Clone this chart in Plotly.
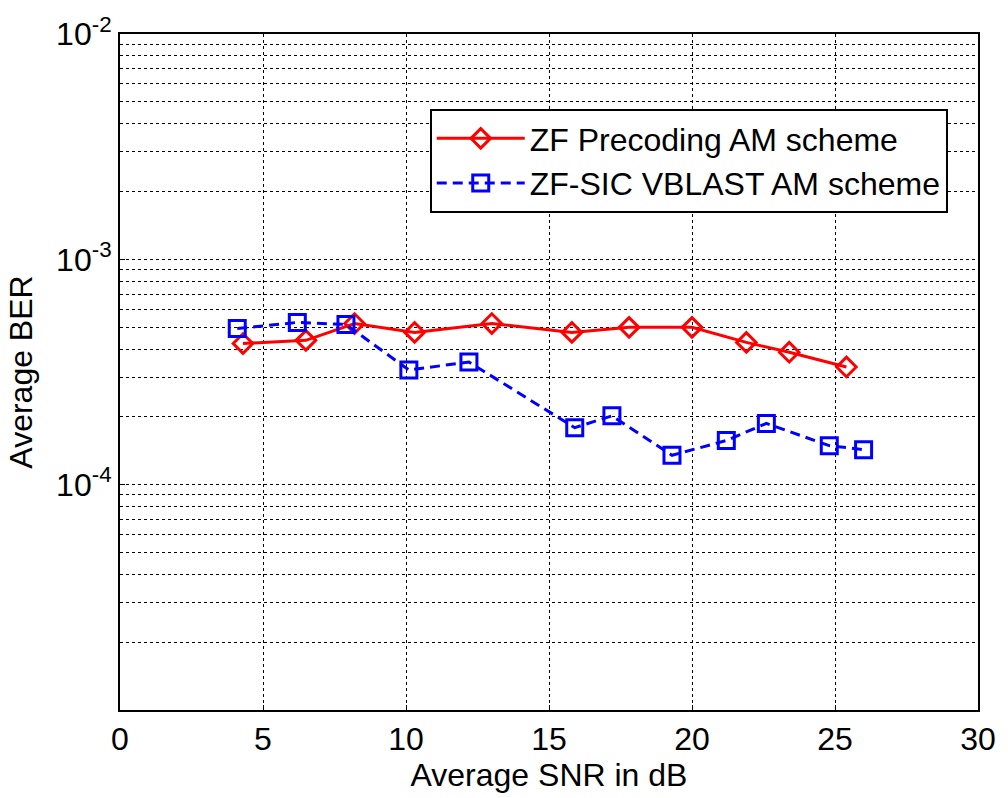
import plotly.graph_objects as go

# SNR (dB) and BER values for the two schemes
snr_zf = [4.3, 6.5, 8.2, 10.3, 13.0, 15.8, 17.8, 20.0, 21.9, 23.4, 25.4]
ber_zf = [4.23e-4, 4.37e-4, 5.19e-4, 4.74e-4, 5.19e-4, 4.74e-4, 4.99e-4, 4.99e-4, 4.28e-4, 3.87e-4, 3.33e-4]

snr_sic = [4.1, 6.2, 7.9, 10.1, 12.2, 15.9, 17.2, 19.3, 21.2, 22.6, 24.8, 26.0]
ber_sic = [4.93e-4, 5.25e-4, 5.14e-4, 3.23e-4, 3.50e-4, 1.79e-4, 2.02e-4, 1.35e-4, 1.57e-4, 1.87e-4, 1.49e-4, 1.43e-4]

x_ticks = [0, 5, 10, 15, 20, 25, 30]
y_ticks = [1e-4, 1e-3, 1e-2]
y_tick_text = ["10<sup>-4</sup>", "10<sup>-3</sup>", "10<sup>-2</sup>"]

# minor grid lines at 2..9 within each decade
y_minor = [m * 10.0 ** e for e in (-5, -4, -3) for m in range(2, 10)]

FONT = "Liberation Sans"
FS = 32

fig = go.Figure()
fig.add_trace(go.Scatter(
    x=snr_zf, y=ber_zf, name="ZF Precoding AM scheme",
    mode="lines+markers",
    line=dict(color="#ff0000", width=3),
    marker=dict(symbol="diamond-open", size=15, color="#ff0000", line=dict(width=3)),
))
fig.add_trace(go.Scatter(
    x=snr_sic, y=ber_sic, name="ZF-SIC VBLAST AM scheme",
    mode="lines+markers",
    line=dict(color="#0000ff", width=3, dash="10px,6px"),
    marker=dict(symbol="square-open", size=16, color="#0000ff", line=dict(width=3)),
))

fig.update_layout(
    width=1008, height=798,
    margin=dict(l=120, r=21, t=31, b=85),
    paper_bgcolor="white", plot_bgcolor="white",
    font=dict(family=FONT, size=FS, color="black"),
    legend=dict(
        x=0.361, y=0.889, xanchor="left", yanchor="top",
        bgcolor="white", bordercolor="black", borderwidth=2,
        font=dict(family=FONT, size=FS), itemwidth=88, tracegroupgap=2,
    ),
)

fig.update_xaxes(
    range=[0, 30], tickvals=x_ticks,
    showgrid=True, gridcolor="black", griddash="dot", gridwidth=1,
    showline=True, linecolor="black", linewidth=2, mirror=True,
    ticks="inside", ticklen=5, tickcolor="black",
    zeroline=False,
    title=dict(text="Average SNR in dB", font=dict(family=FONT, size=FS), standoff=6),
    tickfont=dict(family=FONT, size=FS),
)
fig.update_yaxes(
    type="log", range=[-5, -2],
    tickvals=y_ticks, ticktext=y_tick_text,
    showgrid=True, gridcolor="black", griddash="dot", gridwidth=1,
    minor=dict(tickvals=y_minor, showgrid=True, gridcolor="black", griddash="dot",
               gridwidth=1, ticks="inside", ticklen=3, tickcolor="black"),
    showline=True, linecolor="black", linewidth=2, mirror=True,
    ticks="inside", ticklen=5, tickcolor="black",
    zeroline=False,
    title=dict(text="Average BER", font=dict(family=FONT, size=FS), standoff=14),
    tickfont=dict(family=FONT, size=FS),
)

fig.write_html("out.html")
